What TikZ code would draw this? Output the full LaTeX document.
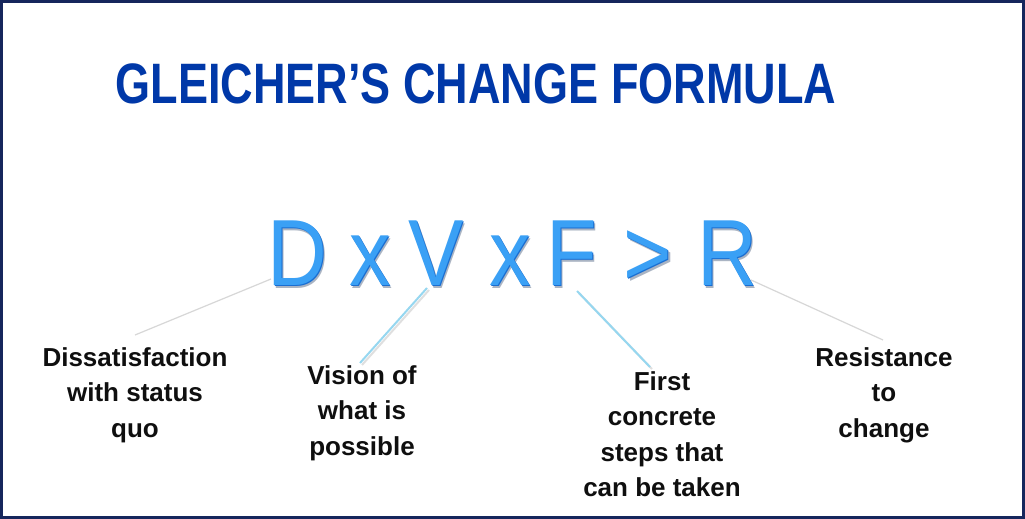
\documentclass[tikz,border=0pt]{standalone}
\usepackage{fontspec}
\setmainfont{Liberation Sans}
\definecolor{titleblue}{RGB}{0,56,168}
\definecolor{frame}{RGB}{22,38,92}
\definecolor{letterblue}{RGB}{58,160,245}
\definecolor{letterdark}{RGB}{25,110,210}
\definecolor{lettershade}{RGB}{170,180,195}
\definecolor{labelink}{RGB}{15,15,15}
\definecolor{linegray}{RGB}{215,215,215}
\definecolor{linecyan}{RGB}{150,215,240}
\newcommand{\bevel}[1]{\scalebox{0.88}[1]{%
  \makebox[0pt][l]{\hspace*{2.5pt}\raisebox{-3.5pt}{\textcolor{lettershade}{#1}}}%
  \makebox[0pt][l]{\hspace*{1.2pt}\raisebox{-1.5pt}{\textcolor{letterdark}{#1}}}%
  \textcolor{letterblue}{#1}}}
\begin{document}
\begin{tikzpicture}[x=1pt,y=-1pt,
  letter/.style={anchor=base,inner sep=0pt,font=\fontsize{94}{94}\selectfont},
  lbl/.style={align=center,font=\fontsize{26}{35.5}\selectfont\bfseries,text=labelink,inner sep=0pt},
  grayline/.style={draw=linegray,line width=1.2pt},
  cyanline/.style={draw=linecyan,line width=2pt},
  lineshadow/.style={draw=gray,opacity=0.25,line width=2pt}]
\useasboundingbox (0,0) rectangle (1025,519);
\fill[white] (0,0) rectangle (1025,519);
\draw[frame,line width=3pt] (1.5,1.5) rectangle (1023.5,517.5);
% title
\node[inner sep=0pt,text=titleblue] (title) at (476,84)
  {\scalebox{0.79}[1]{\fontsize{57}{57}\selectfont\bfseries GLEICHER’S CHANGE FORMULA}};
% formula letters
\node[letter] (D) at (297,285) {\bevel{D}};
\node[letter] (x1) at (370,285) {\bevel{x}};
\node[letter] (V) at (436,285) {\bevel{V}};
\node[letter] (x2) at (510,285) {\bevel{x}};
\node[letter] (F) at (572,285) {\bevel{F}};
\node[letter] (gt) at (648,285) {\bevel{>}};
\node[letter] (R) at (727,285) {\bevel{R}};
% labels
\node[lbl] (dlab) at (135,395) {Dissatisfaction\\with status\\quo};
\node[lbl] (vlab) at (362,413) {Vision of\\what is\\possible};
\node[lbl] (flab) at (662,434) {First\\concrete\\steps that\\can be taken};
\node[lbl] (rlab) at (884,395) {Resistance\\to\\change};
% connector ends
\coordinate (dA) at (271,279);
\coordinate (dB) at (135,335);
\coordinate (vA) at (427,288);
\coordinate (vB) at (360,363);
\coordinate (fA) at (577,291);
\coordinate (fB) at (650,367);
\coordinate (rA) at (751,280);
\coordinate (rB) at (883,340);
\draw[grayline] (dA) -- (dB);
\draw[lineshadow] ([xshift=2pt,yshift=-2pt]vA) -- ([xshift=2pt,yshift=-2pt]vB);
\draw[cyanline] (vA) -- (vB);
\draw[lineshadow] ([xshift=2pt,yshift=-2pt]fA) -- ([xshift=2pt,yshift=-2pt]fB);
\draw[cyanline] (fA) -- (fB);
\draw[grayline] (rA) -- (rB);
\end{tikzpicture}
\end{document}
